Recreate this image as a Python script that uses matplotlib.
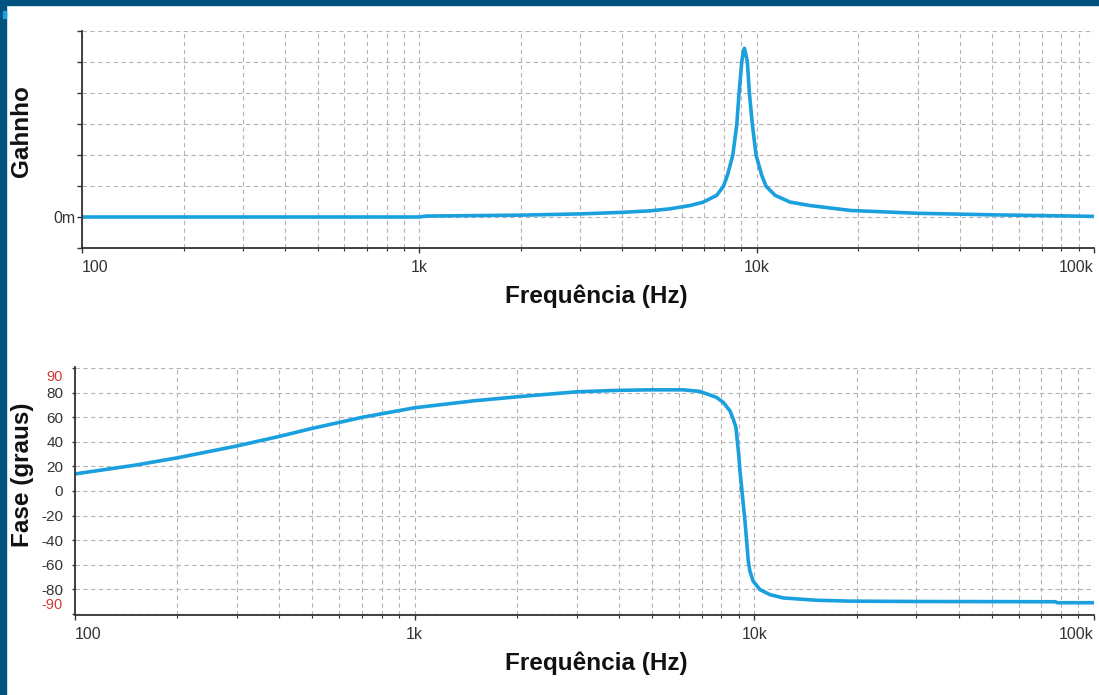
import matplotlib.pyplot as plt
from matplotlib.patches import Rectangle
from matplotlib.ticker import LogLocator, NullFormatter

# ganho (em divisões da grade, 0 = linha "0m")
freq_gain = [100, 200, 500, 1000, 1050, 2000, 3000, 4000, 4850, 5500, 6345, 6950,
             7613, 7969, 8188, 8495, 8730, 8867, 9032, 9130, 9195, 9260, 9387, 9515,
             9712, 9961, 10356, 10664, 11340, 12562, 14396, 19000, 30000, 50000, 100000]
gain = [0.0, 0.0, 0.0, 0.0, 0.03, 0.06, 0.10, 0.15, 0.20, 0.26, 0.37, 0.48,
        0.70, 0.99, 1.34, 1.99, 2.98, 3.99, 5.00, 5.32, 5.44, 5.32, 5.00, 3.99,
        2.98, 1.99, 1.34, 0.99, 0.70, 0.48, 0.37, 0.21, 0.12, 0.07, 0.02]

# fase (graus)
freq_phase = [100, 150, 200, 300, 400, 492, 700, 1000, 1500, 2000, 3000, 4000,
              4929, 6178, 6918, 7745, 8099, 8477, 8670, 8829, 8909, 8994, 9072, 9177,
              9277, 9385, 9493, 9597, 9705, 9925, 10387, 11114, 12166, 15258, 19117,
              30000, 77000, 78000, 100000]
phase = [13.9, 21.0, 27.0, 36.7, 44.5, 50.6, 60.0, 67.8, 73.5, 76.7, 80.8, 82.0,
         82.4, 82.4, 81.1, 76.2, 72.2, 65.3, 58.5, 51.7, 40.8, 29.9, 16.3, 2.7,
         -10.9, -24.5, -40.8, -57.1, -65.3, -73.5, -80.3, -84.4, -87.1, -89.0, -89.7,
         -90.0, -90.2, -91.0, -91.0]

x_ticks = [100, 1000, 10000, 100000]
x_labels = ['100', '1k', '10k', '100k']
x_align = ['left', 'center', 'center', 'right']

blue = '#1a9fdf'
dark = '#333333'
grid_kw = dict(color='#b4b4b4', linestyle=(0, (4, 3)), linewidth=0.8)

plt.rcParams['font.family'] = ['Liberation Sans', 'DejaVu Sans']

fig = plt.figure(figsize=(10.99, 6.95), dpi=100)
ax1 = fig.add_axes([82 / 1099, 1 - 248 / 695, 1012 / 1099, 217 / 695])
ax2 = fig.add_axes([75 / 1099, 1 - 615 / 695, 1019 / 1099, 248 / 695])


def style(ax):
    ax.set_xscale('log')
    ax.set_xlim(100, 100000)
    ax.set_xticks(x_ticks)
    ax.set_xticklabels(x_labels)
    for lab, ha in zip(ax.get_xticklabels(), x_align):
        lab.set_horizontalalignment(ha)
    ax.xaxis.set_minor_locator(LogLocator(base=10, subs=range(2, 10)))
    ax.xaxis.set_minor_formatter(NullFormatter())
    ax.grid(True, which='both', axis='x', **grid_kw)
    ax.grid(True, which='major', axis='y', **grid_kw)
    ax.set_axisbelow(True)
    for s in ['top', 'right']:
        ax.spines[s].set_visible(False)
    for s in ['left', 'bottom']:
        ax.spines[s].set_color(dark)
        ax.spines[s].set_linewidth(1.3)
    ax.tick_params(axis='x', which='major', length=3.5, width=1, color=dark,
                   labelsize=11.5, labelcolor=dark, pad=5)
    ax.tick_params(axis='x', which='minor', length=2.5, width=0.8, color=dark)


# ---- ganho
style(ax1)
ax1.plot(freq_gain, gain, color=blue, lw=2.6, solid_capstyle='round',
         solid_joinstyle='round')
ax1.set_ylim(-1, 6)
ax1.set_yticks(range(-1, 7))
ax1.set_yticklabels(['0m' if v == 0 else '' for v in range(-1, 7)])
ax1.tick_params(axis='y', length=3.5, width=1, color=dark, labelsize=11.5,
                labelcolor=dark, pad=1.5)

# ---- fase
style(ax2)
ax2.plot(freq_phase, phase, color=blue, lw=2.6, solid_capstyle='round',
         solid_joinstyle='round')
ax2.set_ylim(-101, 101)
y2 = list(range(-100, 101, 20))
ax2.set_yticks(y2)
ax2.set_yticklabels(['' if abs(v) == 100 else str(v) for v in y2])
ax2.tick_params(axis='y', length=2.5, width=1, color=dark, labelsize=11,
                labelcolor=dark, pad=6)
# rótulos vermelhos de +/-90 (levemente afastados de 80 / -80, como no original)
for v, off in [(90, 3.0), (-90, -2.5)]:
    ax2.text(-0.0118, v + off, str(v), transform=ax2.get_yaxis_transform(),
             ha='right', va='center', fontsize=10.5, color='#d03a3a')

# ---- rótulos
fig.text(596 / 1099, 1 - 296 / 695, 'Frequência (Hz)', ha='center', va='center',
         fontsize=17.5, fontweight='bold', color='#111111')
fig.text(596 / 1099, 1 - 663 / 695, 'Frequência (Hz)', ha='center', va='center',
         fontsize=17.5, fontweight='bold', color='#111111')
fig.text(22 / 1099, 1 - 131 / 695, 'Gahnho', rotation=90, ha='center', va='center',
         fontsize=17.5, fontweight='bold', color='#111111')
fig.text(22 / 1099, 1 - 475 / 695, 'Fase (graus)', rotation=90, ha='center',
         va='center', fontsize=17.5, fontweight='bold', color='#111111')

# moldura azul (topo e esquerda)
border = '#00527f'
fig.patches.append(Rectangle((0, 1 - 5 / 695), 1, 5 / 695, transform=fig.transFigure,
                             color=border, zorder=10))
fig.patches.append(Rectangle((0, 0), 6 / 1099, 1, transform=fig.transFigure,
                             color=border, zorder=10))
fig.patches.append(Rectangle((3 / 1099, 1 - 18 / 695), 3 / 1099, 7 / 695,
                             transform=fig.transFigure, color='#1a9fdf', zorder=11))

fig.savefig('out.png', dpi=100)
